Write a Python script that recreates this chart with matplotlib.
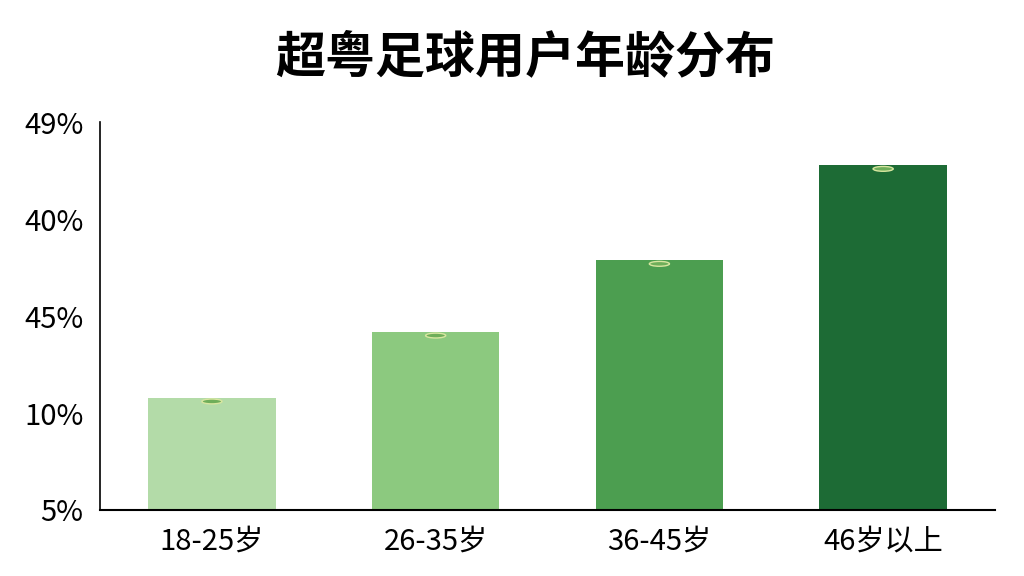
import matplotlib
matplotlib.use("Agg")
import matplotlib.pyplot as plt
from matplotlib.patches import Ellipse

plt.rcParams['font.family'] = ['Noto Sans CJK SC', 'DejaVu Sans']

categories = ['18-25岁', '26-35岁', '36-45岁', '46岁以上']
values = [10.8, 14.2, 17.9, 22.8]
colors = ['#b3dba8', '#8cc97f', '#4c9e50', '#1d6b35']
tick_values = [5, 10, 15, 20, 25]
tick_labels = ['5%', '10%', '45%', '40%', '49%']
title = '超粤足球用户年龄分布'

fig = plt.figure(figsize=(10.24, 5.76), dpi=100)
ax = fig.add_axes([0.0977, 0.1146, 0.874, 0.673])
base = tick_values[0]
x = list(range(len(categories)))
ax.bar(x, [v - base for v in values], bottom=base, width=0.57, color=colors, zorder=2)
for xi, v in zip(x, values):
    ax.add_patch(Ellipse((xi, v - 0.2), 0.09, 0.25, facecolor='#6fae5a', edgecolor='#d8e6a0', lw=1.0, zorder=3))

ax.set_xlim(-0.5, 3.5)
ax.set_ylim(5, 25)
ax.set_xticks(x)
ax.set_xticklabels(categories, fontsize=21)
ax.set_yticks(tick_values)
ax.set_yticklabels(tick_labels, fontsize=21)
ax.tick_params(length=0)
ax.tick_params(axis='x', pad=12)
ax.tick_params(axis='y', pad=12)
for s in ['top', 'right']:
    ax.spines[s].set_visible(False)
ax.spines['left'].set_linewidth(1.2)
ax.spines['bottom'].set_linewidth(1.5)
fig.text(0.513, 0.899, title, ha='center', va='center', fontsize=36, fontweight='bold')
fig.savefig('out.png', dpi=100, facecolor='white')
